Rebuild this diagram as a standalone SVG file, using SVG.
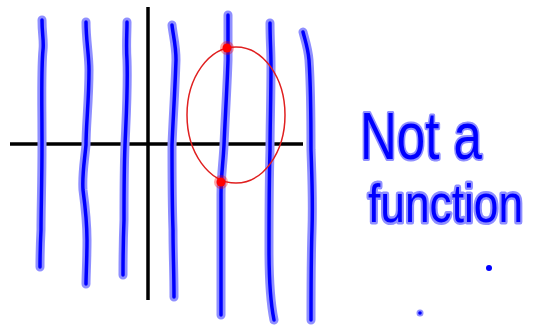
<svg xmlns="http://www.w3.org/2000/svg" xmlns:xlink="http://www.w3.org/1999/xlink" width="538" height="325" viewBox="0 0 538 325">
<style>
.halo{fill:none;stroke:#8f8fff;stroke-width:9;stroke-linecap:round;stroke-linejoin:round}
.core{fill:none;stroke:#0000ff;stroke-width:3.5;stroke-linecap:round;stroke-linejoin:round}
.axis{stroke:#000;stroke-width:3.5}
.txt{font-family:"Liberation Sans",Arial,sans-serif;fill:#0000ff;stroke:#8f8fff;stroke-width:4;paint-order:stroke;stroke-linejoin:round}
</style>
<defs>
<path id="l1" d="M42,20 C42,35 44,40 43,50 C41,70 42,100 42,145 C42,180 41,210 41,230 C40,250 40,260 40,267"/>
<path id="l2" d="M86,22 C86,40 89,55 89,70 C89,100 86,125 86,145 C84,165 82,175 83,190 C85,205 87,220 87,240 C87,260 86,275 86,284"/>
<path id="l3" d="M127,22 C127,35 126,45 127,60 C128,90 126,120 125,145 C124,170 124,200 124,220 C123,245 123,265 123,275"/>
<path id="l4" d="M172,25 C173,35 176,45 176,60 C175,90 173,120 172,145 C172,175 172,200 173,230 C173,255 174,270 174,297"/>
<path id="l5" d="M228,15 C228,30 228,45 228,60 C227,90 225,120 224,145 C223,165 221,175 221,195 C221,230 221,270 221,315"/>
<path id="l6" d="M270,23 C270,40 271,50 271,65 C271,100 270,125 270,150 C269,185 269,220 269,250 C269,280 271,305 274,320"/>
<path id="l7" d="M303,32 C305,40 308,48 309,60 C311,90 311,120 311,150 C312,180 313,200 312,230 C311,260 311,290 311,320"/>
</defs>
<g id="axes">
<line class="axis" x1="148" y1="7" x2="148" y2="300"/>
<line class="axis" x1="10" y1="144" x2="303" y2="144"/>
</g>
<g id="lines">
<use class="halo" xlink:href="#l1"/><use class="core" xlink:href="#l1"/>
<use class="halo" xlink:href="#l2"/><use class="core" xlink:href="#l2"/>
<use class="halo" xlink:href="#l3"/><use class="core" xlink:href="#l3"/>
<use class="halo" xlink:href="#l4"/><use class="core" xlink:href="#l4"/>
<use class="halo" xlink:href="#l5"/><use class="core" xlink:href="#l5"/>
<use class="halo" xlink:href="#l6"/><use class="core" xlink:href="#l6"/>
<use class="halo" xlink:href="#l7"/><use class="core" xlink:href="#l7"/>
</g>
<g id="ellipse">
<ellipse cx="236" cy="115" rx="49" ry="68" fill="none" stroke="#e02020" stroke-width="1.5"/>
<circle cx="227" cy="48" r="7" fill="#ff0000" opacity="0.35"/>
<circle cx="227" cy="48" r="4.5" fill="#ff0000"/>
<circle cx="221" cy="182" r="7" fill="#ff0000" opacity="0.35"/>
<circle cx="221" cy="182" r="4.5" fill="#ff0000"/>
</g>
<g id="label">
<text class="txt" x="360" y="159" font-size="66" textLength="122" lengthAdjust="spacingAndGlyphs">Not a</text>
<text class="txt" transform="translate(368,222) scale(1,1.28)" x="0" y="0" font-size="42" textLength="155" lengthAdjust="spacingAndGlyphs">function</text>
</g>
<g id="dots">
<circle cx="489" cy="268" r="3" fill="#0000ff"/>
<circle cx="420" cy="313" r="3.5" fill="#8f8fff"/>
<circle cx="420" cy="313" r="1.8" fill="#0000ff"/>
</g>
</svg>
